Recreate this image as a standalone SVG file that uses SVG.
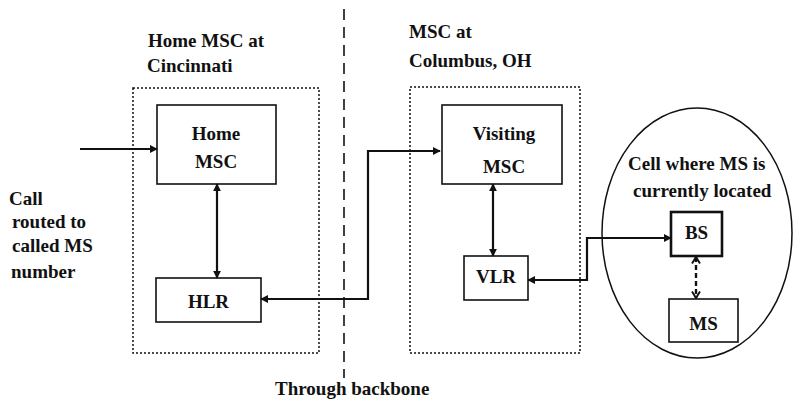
<svg xmlns="http://www.w3.org/2000/svg" width="794" height="399" viewBox="0 0 794 399">
  <style>
    text { font-weight: bold; font-size: 19px; fill: #111; }
    .mid { text-anchor: middle; }
    .box { fill: #fff; stroke: #111; stroke-width: 1.6; }
    .region { fill: none; stroke: #111; stroke-width: 1.5; stroke-dasharray: 2 2; }
    .link { fill: none; stroke: #111; stroke-width: 2.2; }
    .radio { fill: none; stroke: #111; stroke-width: 2.4; stroke-dasharray: 5 3; }
  </style>
  <defs>
    <marker id="arrow" viewBox="0 0 10 10" refX="9" refY="5" markerUnits="userSpaceOnUse" markerWidth="8" markerHeight="8" orient="auto-start-reverse">
      <path d="M0 0 L10 5 L0 10 Z" fill="#111"/>
    </marker>
    <marker id="chevron" viewBox="0 0 10 12" refX="9" refY="6" markerUnits="userSpaceOnUse" markerWidth="8" markerHeight="10" orient="auto-start-reverse">
      <path d="M1 1 L9 6 L1 11" fill="none" stroke="#111" stroke-width="2.4"/>
    </marker>
  </defs>

  <g font-family="'Liberation Serif', 'Times New Roman', 'DejaVu Serif', serif">
  <!-- backbone boundary -->
  <path d="M344 9 V378" fill="none" stroke="#111" stroke-width="1.6" stroke-dasharray="11 7"/>
  <text x="275" y="395">Through backbone</text>

  <!-- home system -->
  <g id="home-system">
    <rect class="region" x="133" y="88" width="186" height="265"/>
    <text x="148" y="47">Home MSC at</text>
    <text x="147" y="72">Cincinnati</text>
  </g>
  <g id="home-msc">
    <rect class="box" x="157" y="105" width="119" height="79"/>
    <text class="mid" x="216" y="140">Home</text>
    <text class="mid" x="216" y="168">MSC</text>
  </g>
  <g id="hlr">
    <rect class="box" x="156" y="278" width="105" height="44"/>
    <text class="mid" x="208.5" y="308">HLR</text>
  </g>

  <!-- visited system -->
  <g id="visited-system">
    <rect class="region" x="410" y="87" width="170" height="266"/>
    <text x="409" y="38">MSC at</text>
    <text x="409" y="67">Columbus, OH</text>
  </g>
  <g id="visiting-msc">
    <rect class="box" x="442" y="105" width="120" height="79"/>
    <text class="mid" x="504" y="140">Visiting</text>
    <text class="mid" x="504" y="173">MSC</text>
  </g>
  <g id="vlr">
    <rect class="box" x="464" y="256" width="64" height="44"/>
    <text class="mid" x="496" y="283">VLR</text>
  </g>

  <!-- serving cell -->
  <g id="cell">
    <ellipse cx="697" cy="233" rx="95" ry="125" fill="none" stroke="#111" stroke-width="1.5"/>
    <text x="628" y="170">Cell where MS is</text>
    <text x="633" y="197">currently located</text>
  </g>
  <g id="bs">
    <rect class="box" x="671" y="212" width="51" height="44" style="stroke-width:2.6"/>
    <text class="mid" x="696.5" y="239">BS</text>
  </g>
  <g id="ms">
    <rect class="box" x="669" y="299" width="69" height="43"/>
    <text class="mid" x="703.5" y="330">MS</text>
  </g>

  <!-- caller -->
  <g id="caller">
    <text x="9" y="205">Call</text>
    <text x="12" y="228">routed to</text>
    <text x="12" y="252">called MS</text>
    <text x="11" y="278">number</text>
  </g>
  </g>

  <g id="connectors">
    <path class="link" d="M80 149 H157" marker-end="url(#arrow)"/>
    <path class="link" d="M217 184 V278" marker-start="url(#arrow)" marker-end="url(#arrow)"/>
    <path class="link" d="M440 151 H368 V299 H261" marker-start="url(#arrow)" marker-end="url(#arrow)"/>
    <path class="link" d="M493 184 V256" marker-start="url(#arrow)" marker-end="url(#arrow)"/>
    <path class="link" d="M528 280 H587 V238 H671" marker-start="url(#arrow)" marker-end="url(#arrow)"/>
    <path class="radio" d="M696 257 V298" marker-start="url(#chevron)" marker-end="url(#chevron)"/>
  </g>
</svg>
